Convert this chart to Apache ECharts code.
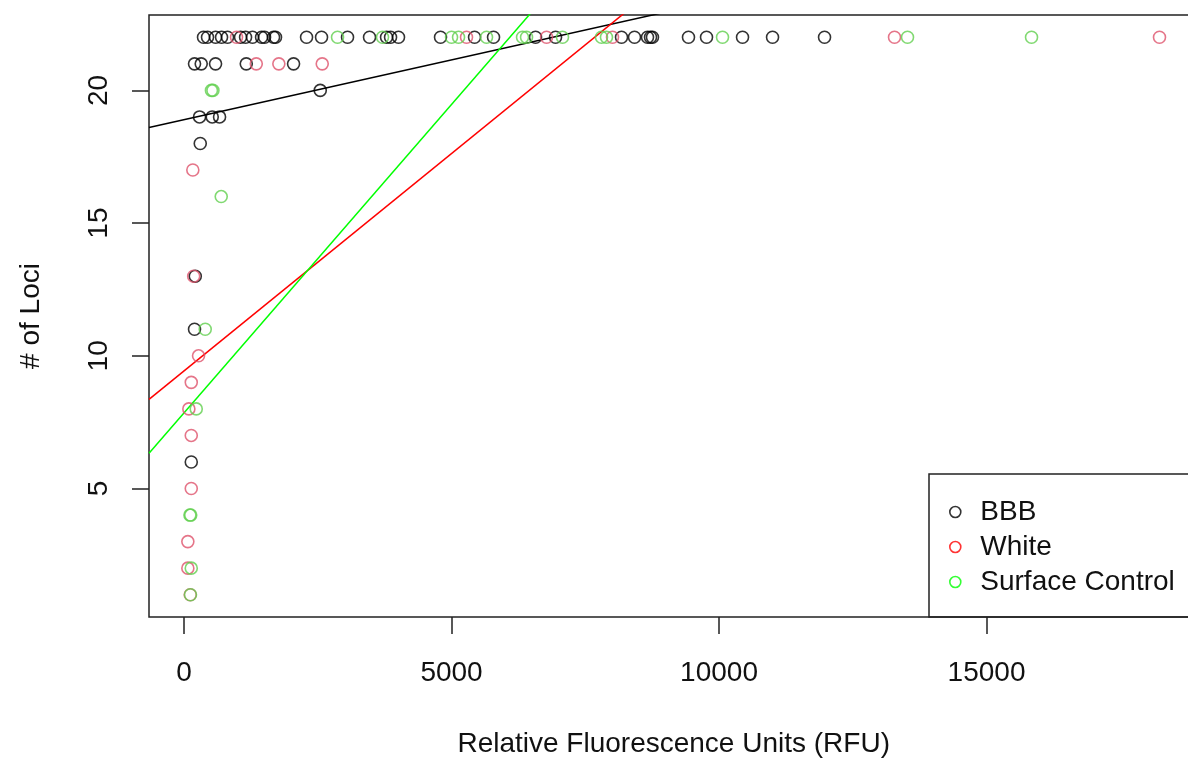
<!DOCTYPE html>
<html>
<head>
<meta charset="utf-8">
<script src="https://cdn.jsdelivr.net/npm/echarts@6/dist/echarts.min.js"></script>
<style>
html,body{margin:0;padding:0;background:#fff;overflow:hidden;}
#chart{width:1200px;height:759px;}
</style>
</head>
<body>
<div id="chart"></div>
<script>
// ---- data ----
const seriesNames = ['BBB', 'White', 'Surface Control'];

const bbbRFU = [364, 439, 589, 701, 813, 1056, 1150, 1280, 1449, 1505, 1673, 1710, 2290, 2570, 3056, 3467, 3785, 3860, 4009, 4794, 5430, 5785, 6570, 6944, 8177, 8420, 8663, 8719, 8756, 9429, 9766, 10439, 11000, 11972,
                196, 321, 589, 1163, 2047,
                2546,
                290, 527, 664,
                303,
                210,
                196,
                135];
const bbbLoci = [22, 22, 22, 22, 22, 22, 22, 22, 22, 22, 22, 22, 22, 22, 22, 22, 22, 22, 22, 22, 22, 22, 22, 22, 22, 22, 22, 22, 22, 22, 22, 22, 22, 22,
                 21, 21, 21, 21, 21,
                 20,
                 19, 19, 19,
                 18,
                 13,
                 11,
                 6];

const whiteRFU = [981, 5280, 6776, 8009, 13280, 18233,
                  1350, 1772, 2583,
                  164, 180, 271, 135, 90, 135, 135, 71, 71, 116];
const whiteLoci = [22, 22, 22, 22, 22, 22,
                   21, 21, 21,
                   17, 13, 10, 9, 8, 7, 5, 3, 2, 1];

const surfRFU = [2869, 3710, 5000, 5131, 5654, 6327, 6402, 7074, 7803, 7896, 10065, 13523, 15841,
                 512, 540, 695, 396, 228, 110, 125, 135, 120];
const surfLoci = [22, 22, 22, 22, 22, 22, 22, 22, 22, 22, 22, 22, 22,
                  20, 20, 16, 11, 8, 4, 4, 2, 1];

// fitted regression lines (intercept, slope) per group
const fitIntercepts = [18.9, 9.43, 7.85];
const fitSlopes = [0.00045, 0.001638, 0.002324];

// axis ranges and ticks
const xRange = [-655, 18960];
const yRange = [0.16, 22.84];
const xTicks = [0, 5000, 10000, 15000];
const yTicks = [5, 10, 15, 20];

// ---- styling ----
const pointColors = ['#000000', '#DF536B', '#61D04F'];
const lineColors = ['#000000', '#FF0000', '#00FF00'];
const legendColors = ['#000000', '#FF0000', '#00FF00'];
const FONT = '"Liberation Sans", Arial, sans-serif';

const groupsX = [bbbRFU, whiteRFU, surfRFU];
const groupsY = [bbbLoci, whiteLoci, surfLoci];

const series = [];
seriesNames.forEach((name, g) => {
  series.push({
    type: 'scatter',
    name: name,
    data: groupsX[g].map((v, i) => [v, groupsY[g][i]]),
    symbol: 'circle',
    symbolSize: 12,
    itemStyle: { color: 'rgba(0,0,0,0)', borderColor: pointColors[g], borderWidth: 1.6 },
    emphasis: { disabled: true },
    z: 3
  });
});
seriesNames.forEach((name, g) => {
  const a = fitIntercepts[g], b = fitSlopes[g];
  series.push({
    type: 'line',
    name: name + ' fit',
    data: [[xRange[0], a + b * xRange[0]], [xRange[1], a + b * xRange[1]]],
    symbol: 'none',
    clip: true,
    silent: true,
    lineStyle: { color: lineColors[g], width: 1.5 },
    z: 2
  });
});

const chart = echarts.init(document.getElementById('chart'), null, { renderer: 'canvas' });
chart.setOption({
  animation: false,
  backgroundColor: '#ffffff',
  grid: {
    left: 149, top: 15, right: 1.6, bottom: 142,
    outerBoundsMode: 'none',
    containLabel: false,
    show: true, borderColor: '#222', borderWidth: 1.5, backgroundColor: 'rgba(0,0,0,0)'
  },
  xAxis: {
    type: 'value', min: xRange[0], max: xRange[1],
    axisLine: { show: false, onZero: false },
    splitLine: { show: false },
    axisTick: { show: true, length: 17, customValues: xTicks, lineStyle: { color: '#222', width: 1.5 } },
    axisLabel: { customValues: xTicks, margin: 42, fontSize: 28, color: '#111', fontFamily: FONT,
                 formatter: v => String(v) },
    name: 'Relative Fluorescence Units (RFU)',
    nameLocation: 'middle', nameGap: 113,
    nameTextStyle: { fontSize: 28, color: '#111', fontFamily: FONT }
  },
  yAxis: {
    type: 'value', min: yRange[0], max: yRange[1],
    axisLine: { show: false, onZero: false },
    splitLine: { show: false },
    axisTick: { show: true, length: 17, customValues: yTicks, lineStyle: { color: '#222', width: 1.5 } },
    axisLabel: { customValues: yTicks, margin: 36, rotate: 90, fontSize: 28, color: '#111', fontFamily: FONT,
                 formatter: v => String(v) },
    name: '# of Loci',
    nameLocation: 'middle', nameGap: 104, nameRotate: 90,
    nameTextStyle: { fontSize: 28, color: '#111', fontFamily: FONT }
  },
  legend: {
    orient: 'vertical',
    left: 949, top: 497,
    padding: 0,
    itemGap: 5,
    itemWidth: 40, itemHeight: 11,
    icon: 'circle',
    textStyle: { fontSize: 28, color: '#111', fontFamily: FONT, lineHeight: 30 },
    selectedMode: false,
    data: seriesNames.map((n, g) => ({
      name: n,
      itemStyle: { color: 'rgba(0,0,0,0)', borderColor: legendColors[g], borderWidth: 1.6 }
    }))
  },
  graphic: [{
    type: 'rect',
    shape: { x: 929, y: 474, width: 320, height: 143 },
    style: { fill: 'rgba(0,0,0,0)', stroke: '#222', lineWidth: 1.5 },
    silent: true,
    z: 10
  }],
  series: series
});
</script>
</body>
</html>
